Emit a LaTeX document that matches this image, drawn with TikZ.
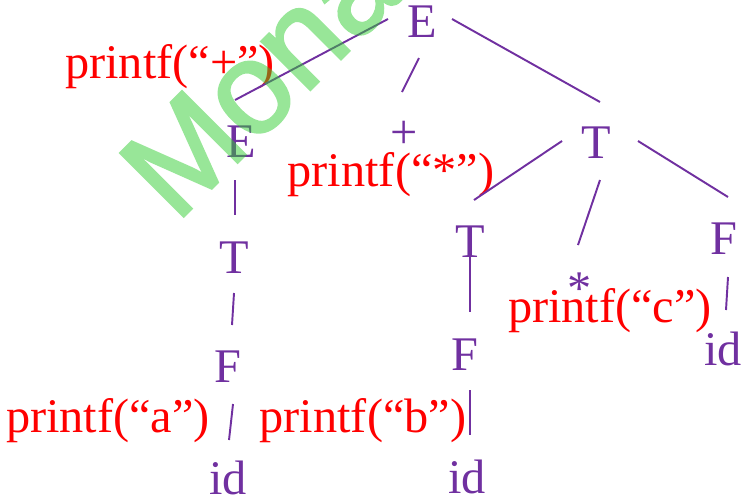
\documentclass[tikz,border=0pt]{standalone}
\usepackage{fontspec}
\setmainfont{Liberation Serif}
\newfontfamily\wmfont[FakeBold=2]{Liberation Sans}
\definecolor{pur}{RGB}{112,48,160}
\definecolor{wmgreen}{RGB}{49,205,49}
\tikzset{
  sym/.style={text=pur, font=\fontsize{27.5}{30}\selectfont, inner sep=0pt, anchor=base},
  act/.style={text=red, font=\fontsize{27.5}{30}\selectfont, inner sep=0pt, anchor=base},
  edge/.style={draw=pur, line width=1.1pt},
  wmark/.style={text=wmgreen, font=\wmfont\fontsize{74}{78}\selectfont, inner sep=0pt, anchor=base west, rotate=45}
}
\begin{document}
\begin{tikzpicture}[x=0.02cm,y=-0.02cm]
\useasboundingbox (0,0) rectangle (750,498);
% tree symbols
\node[sym] (E0) at (422,37) {E};
\node[sym] (E1) at (241,157) {E};
\node[sym] (plus) at (404,148) {+};
\node[sym] (T1) at (596,158) {T};
\node[sym] (T2) at (234,273) {T};
\node[sym] (T3) at (470,257) {T};
\node[sym] (star) at (580,304) {*};
\node[sym] (F3) at (724,254) {F};
\node[sym] (F2) at (228,382) {F};
\node[sym] (F4) at (465,370) {F};
\node[sym] (id3) at (723,365) {id};
\node[sym] (id2) at (228,494) {id};
\node[sym] (id4) at (467,493) {id};
% semantic actions
\node[act] (pp) at (170,78) {printf(“+”)};
\node[act] (ps) at (391,186) {printf(“*”)};
\node[act] (pc) at (610,322) {printf(“c”)};
\node[act] (pa) at (108,432) {printf(“a”)};
\node[act] (pb) at (363,432) {printf(“b”)};
% connector end points
\coordinate (c1a) at (388,19);  \coordinate (c1b) at (235,100);
\coordinate (c2a) at (419,58);  \coordinate (c2b) at (402,92);
\coordinate (c3a) at (452,19);  \coordinate (c3b) at (600,102);
\coordinate (c4a) at (235,180); \coordinate (c4b) at (235,215);
\coordinate (c5a) at (234,293); \coordinate (c5b) at (232,325);
\coordinate (c6a) at (233,404); \coordinate (c6b) at (229,440);
\coordinate (c7a) at (562,141); \coordinate (c7b) at (474,200);
\coordinate (c8a) at (600,180); \coordinate (c8b) at (578,245);
\coordinate (c9a) at (638,141); \coordinate (c9b) at (728,197);
\coordinate (c10a) at (470,257); \coordinate (c10b) at (470,312);
\coordinate (c11a) at (470,390); \coordinate (c11b) at (470,435);
\coordinate (c12a) at (728,277); \coordinate (c12b) at (726,310);
\draw[edge] (c1a) -- (c1b);
\draw[edge] (c2a) -- (c2b);
\draw[edge] (c3a) -- (c3b);
\draw[edge] (c4a) -- (c4b);
\draw[edge] (c5a) -- (c5b);
\draw[edge] (c6a) -- (c6b);
\draw[edge] (c7a) -- (c7b);
\draw[edge] (c8a) -- (c8b);
\draw[edge] (c9a) -- (c9b);
\draw[edge] (c10a) -- (c10b);
\draw[edge] (c11a) -- (c11b);
\draw[edge] (c12a) -- (c12b);
% watermark
\begin{scope}[transparency group, opacity=0.5]
\clip (0,0) rectangle (750,498);
\node[wmark] (wm) at (176,224) {Monash};
\end{scope}
\end{tikzpicture}
\end{document}
